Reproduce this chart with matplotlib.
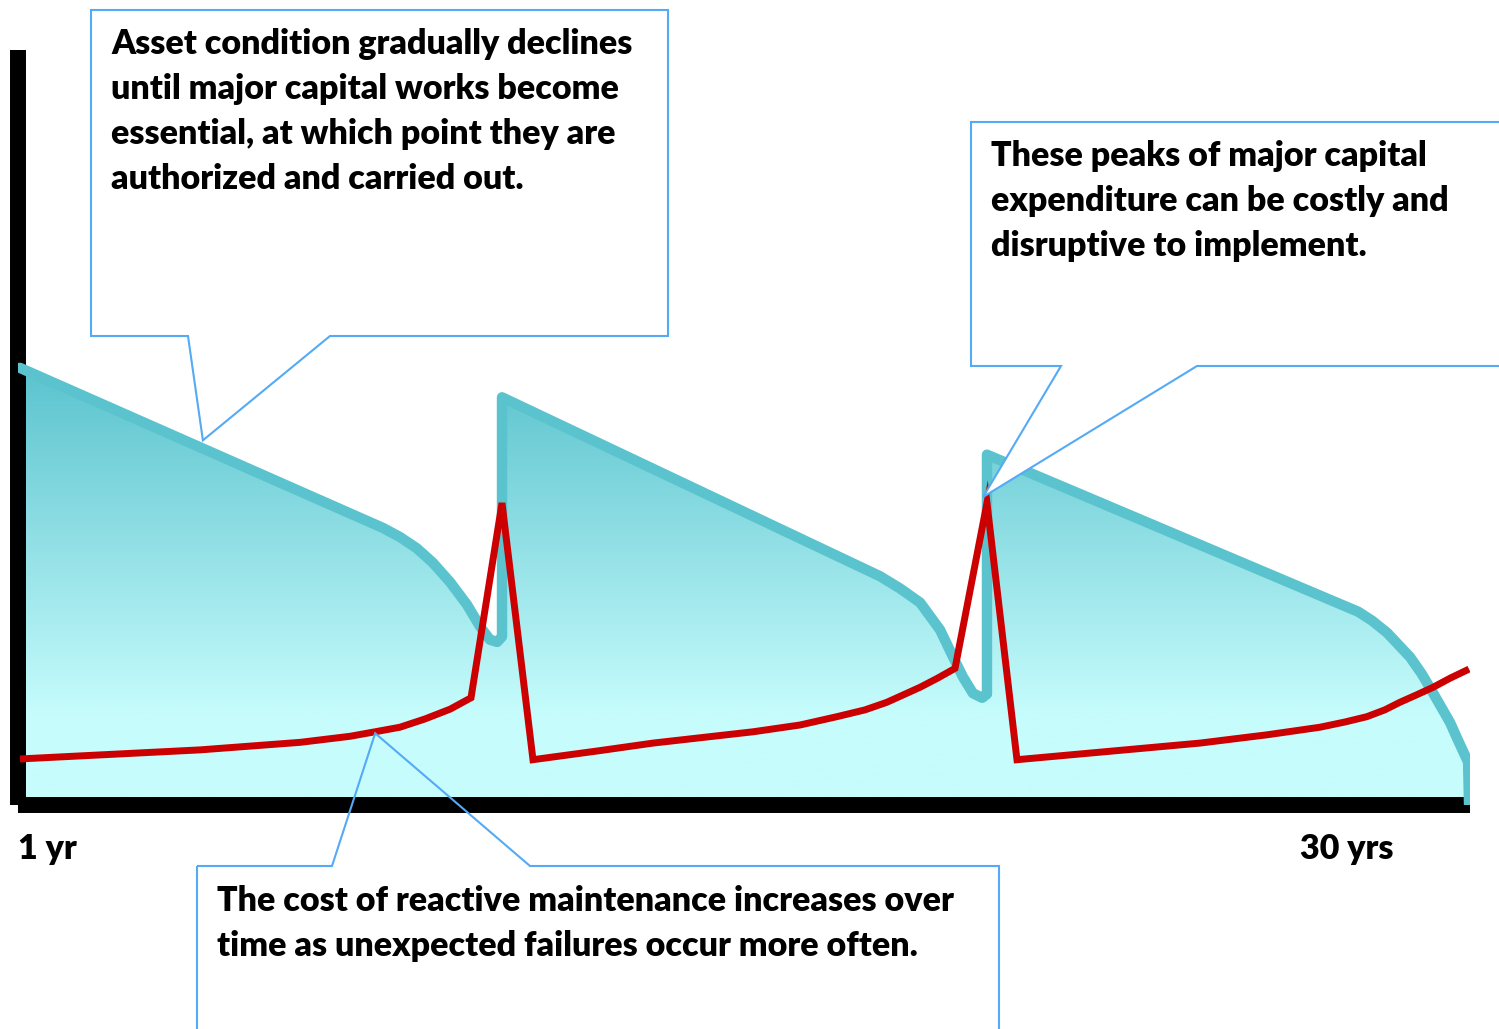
import numpy as np
import matplotlib.pyplot as plt
from matplotlib.colors import LinearSegmentedColormap
from matplotlib.patches import Polygon

plt.rcParams['font.family'] = ['Lato', 'DejaVu Sans']

# asset condition index (0-100) across a 30 year life, three renewal cycles
cond_years = [0.04, 7.54, 7.89, 8.24, 8.57, 8.93, 9.28, 9.55, 9.75, 9.90, 10.0, 10.0,
              17.81, 18.22, 18.64, 19.05, 19.32, 19.52, 19.73, 19.92, 20.02, 20.02,
              27.69, 27.98, 28.29, 28.51, 28.76, 29.0, 29.24, 29.42, 29.59, 29.75,
              29.96, 29.98]
cond_index = [57.9, 36.7, 35.5, 34.0, 32.1, 29.5, 26.5, 23.6, 21.9, 21.6, 22.3, 54.0,
              30.3, 28.7, 26.8, 23.2, 19.6, 17.0, 14.8, 14.2, 14.7, 46.4,
              25.6, 24.4, 22.8, 21.3, 19.6, 17.4, 14.8, 12.8, 10.9, 8.6,
              5.7, 0.0]

# reactive maintenance cost, with capital works peaks at each renewal
cost_years = [0.04, 3.76, 5.83, 6.86, 7.38, 7.89, 8.41, 8.93, 9.36, 10.0,
              10.64, 12.02, 13.12, 15.19, 16.16, 16.92, 17.5, 17.95, 18.33, 18.64, 19.0, 19.36, 20.02,
              20.64, 22.36, 24.42, 25.81, 26.9, 27.42, 27.87, 28.24, 28.55, 28.9, 29.24, 29.59, 29.98]
cost_index = [6.1, 7.3, 8.3, 9.1, 9.7, 10.3, 11.4, 12.7, 14.2, 40.0,
              6.0, 7.2, 8.2, 9.7, 10.6, 11.7, 12.6, 13.6, 14.7, 15.6, 16.8, 18.1, 40.0,
              6.0, 7.0, 8.2, 9.3, 10.3, 11.0, 11.7, 12.6, 13.6, 14.6, 15.6, 16.8, 18.0]

tick_pos = [0.61, 27.46]
tick_labels = ['1 yr', '30 yrs']

notes = [
    ['Asset condition gradually declines',
     'until major capital works become',
     'essential, at which point they are',
     'authorized and carried out.'],
    ['These peaks of major capital',
     'expenditure can be costly and',
     'disruptive to implement.'],
    ['The cost of reactive maintenance increases over',
     'time as unexpected failures occur more often.'],
]
# points the callouts refer to (year, index)
note_targets = [(3.82, 48.3), (19.94, 40.8), (7.38, 9.5)]

FONT_SIZE = 24.5
FONT_WEIGHT = 'heavy'

W, H = 1499, 1029
fig = plt.figure(figsize=(W / 100, H / 100), dpi=100)
ax = fig.add_axes([18 / W, (H - 805) / H, (1470 - 18) / W, 755 / H])
ax.set_xlim(0, 30)
ax.set_ylim(0, 100)

# gradient fill under the condition curve
cmap = LinearSegmentedColormap.from_list('cond', ['#C6FCFC', '#5BC3CE'])
yy = np.linspace(0, 60, 300)
grad = np.clip((yy - 12) / (58 - 12), 0, 1)[:, None]
img = ax.imshow(grad, extent=[0, 30, 0, 60], origin='lower', aspect='auto',
                cmap=cmap, vmin=0, vmax=1, zorder=1)
outline = list(zip(cond_years, cond_index)) + [(0, 0), (0, cond_index[0])]
clip = Polygon(outline, closed=True, transform=ax.transData, facecolor='none', edgecolor='none')
ax.add_patch(clip)
img.set_clip_path(clip)

ax.plot(cond_years, cond_index, color='#5BC3CE', lw=7.5,
        solid_capstyle='round', solid_joinstyle='round', zorder=3)
ax.plot(cost_years, cost_index, color='#CC0000', lw=5,
        solid_capstyle='butt', solid_joinstyle='miter', zorder=4)

for side in ['top', 'right']:
    ax.spines[side].set_visible(False)
for side in ['left', 'bottom']:
    ax.spines[side].set_linewidth(11.5)
    ax.spines[side].set_color('black')
    ax.spines[side].set_capstyle('butt')
ax.set_yticks([])
ax.set_xticks(tick_pos, tick_labels)
ax.tick_params(axis='x', length=0, pad=20, labelsize=FONT_SIZE)
for lbl in ax.get_xticklabels():
    lbl.set_fontweight(FONT_WEIGHT)
ax.set_facecolor('none')

# overlay in pixel units for the callout boxes
ov = fig.add_axes([0, 0, 1, 1], zorder=5)
ov.set_xlim(0, W)
ov.set_ylim(H, 0)
ov.axis('off')
ov.patch.set_alpha(0)


def to_px(pt):
    return ov.transData.inverted().transform(ax.transData.transform(pt))


boxes = [
    dict(rect=(91, 10, 668, 336), base=(188, 330), side='bottom', fill='white'),
    dict(rect=(971, 122, 1515, 366), base=(1061, 1197), side='bottom', fill='white'),
    dict(rect=(197, 866, 999, 1045), base=(332, 530), side='top', fill='none'),
]
text_pos = [(111, [54, 99, 144, 189]), (991, [166, 211, 256]), (217, [911, 956])]

for box, target, lines, (tx, tys) in zip(boxes, note_targets, notes, text_pos):
    x0, y0, x1, y1 = box['rect']
    b0, b1 = box['base']
    tip = tuple(to_px(target))
    if box['side'] == 'bottom':
        pts = [(x0, y0), (x1, y0), (x1, y1), (b1, y1), tip, (b0, y1), (x0, y1)]
    else:
        pts = [(x0, y0), (b0, y0), tip, (b1, y0), (x1, y0), (x1, y1), (x0, y1)]
    ov.add_patch(Polygon(pts, closed=True, facecolor=box['fill'],
                         edgecolor='#55AAF5', lw=1.5, joinstyle='miter'))
    for line, ty in zip(lines, tys):
        ov.text(tx, ty, line, fontsize=FONT_SIZE, fontweight=FONT_WEIGHT, color='black',
                ha='left', va='baseline')

fig.savefig('out.png', dpi=100, facecolor='white')
